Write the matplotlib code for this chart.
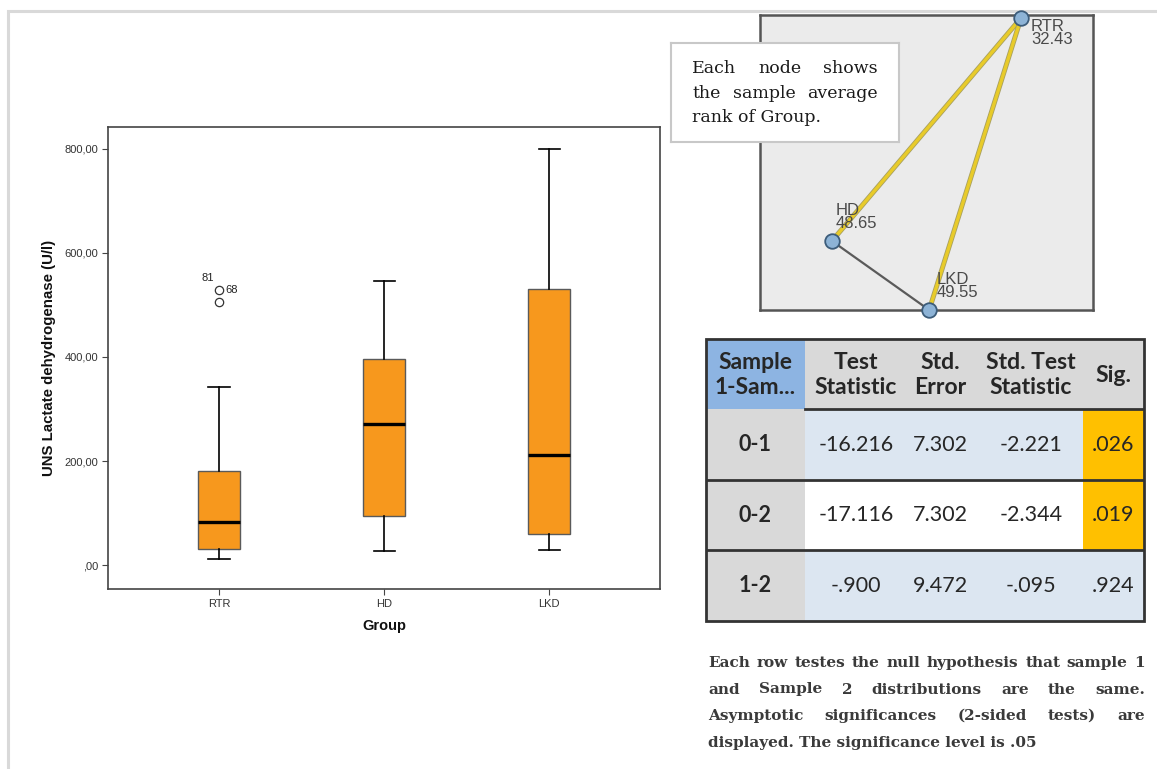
import matplotlib.pyplot as plt
import matplotlib.patheffects as pe
from matplotlib.patches import Rectangle

# boxplot: UNS lactate dehydrogenase by group
groups = ["RTR", "HD", "LKD"]
whisker_low = [11, 27, 28]
q1 = [30, 94, 59]
medians = [83, 271, 212]
q3 = [181, 397, 530]
whisker_high = [343, 546, 800]
outlier_values = [[529, 506], [], []]
outlier_ids = [["68", "81"], [], []]
y_ticks = [0, 200, 400, 600, 800]

# pairwise comparison network (mean ranks)
mean_ranks = [32.43, 48.65, 49.55]
node_x = [0.784, 0.216, 0.508]
node_y = [0.99, 0.234, 0.0]

# pairwise comparison table
pairs = ["0-1", "0-2", "1-2"]
pair_nodes = [(0, 1), (0, 2), (1, 2)]
test_stat = [-16.216, -17.116, -0.900]
std_error = [7.302, 7.302, 9.472]
std_test_stat = [-2.221, -2.344, -0.095]
sig = [0.026, 0.019, 0.924]
header = ["Sample\n1-Sam...", "Test\nStatistic", "Std.\nError", "Std. Test\nStatistic", "Sig."]

node_note = ["Each node shows", "the sample average", "rank of Group."]
footnote = [
    "Each row testes the null hypothesis that sample 1",
    "and Sample 2 distributions are the same.",
    "Asymptotic significances (2-sided tests) are",
    "displayed. The significance level is .05",
]

W, H = 1157, 769
fig = plt.figure(figsize=(W / 100, H / 100), dpi=100)
renderer = fig.canvas.get_renderer()


def px_axes(x0, y0, x1, y1, z=1):
    ax = fig.add_axes([x0 / W, 1 - y1 / H, (x1 - x0) / W, (y1 - y0) / H], zorder=z)
    ax.set_xlim(x0, x1)
    ax.set_ylim(y1, y0)
    return ax


def justified(ax, lines, x0, x1, y0, dy, **kw):
    for i, line in enumerate(lines):
        y = y0 + i * dy
        words = line.split()
        if i == len(lines) - 1 or len(words) == 1:
            ax.text(x0, y, line, ha="left", va="baseline", **kw)
            continue
        texts = [ax.text(0, y, w, ha="left", va="baseline", **kw) for w in words]
        widths = [t.get_window_extent(renderer).width for t in texts]
        gap = (x1 - x0 - sum(widths)) / (len(words) - 1)
        x = x0
        for t, w in zip(texts, widths):
            t.set_x(x)
            x += w + gap


def fmt(v):
    s = f"{v:.3f}"
    if abs(v) < 1:
        s = s.replace("0.", ".", 1)
    return s


# background frame + footnote
bg = px_axes(0, 0, W, H, z=0)
bg.axis("off")
bg.plot([8, 8, W], [H, 11, 11], color="#d9d9d9", lw=2.2, solid_joinstyle="miter")
justified(bg, footnote, 708, 1145, 667, 26.5,
          family="DejaVu Serif", weight="bold", fontsize=11, color="#3a3a3a")

# ---- boxplot ----
ax = px_axes(108, 127, 660, 589, z=2)
stats = []
for i in range(len(groups)):
    stats.append(dict(whislo=whisker_low[i], q1=q1[i], med=medians[i], q3=q3[i],
                      whishi=whisker_high[i], fliers=outlier_values[i]))
ax.bxp(stats, positions=range(1, len(groups) + 1), widths=0.255, capwidths=0.13,
       patch_artist=True,
       boxprops=dict(facecolor="#F7981D", edgecolor="#5a5a5a", lw=1.0),
       medianprops=dict(color="black", lw=2.4),
       whiskerprops=dict(color="black", lw=1.2),
       capprops=dict(color="black", lw=1.2),
       flierprops=dict(marker="o", markersize=6, markerfacecolor="none",
                       markeredgecolor="#333333", markeredgewidth=0.9))
id_offsets = [(6, 0, "left"), (-11, 24, "center")]
for i, (vals, ids) in enumerate(zip(outlier_values, outlier_ids)):
    for v, lab, off in zip(vals, ids, id_offsets):
        ax.annotate(lab, (i + 1, v), xytext=off[:2], textcoords="offset pixels",
                    ha=off[2], va="center", fontsize=8, family="Liberation Sans",
                    color="#222222")
ax.set_xlim(0.327, 3.67)
ax.set_ylim(-46, 842)
ax.set_yticks(y_ticks)
ylabels = []
for v in y_ticks:
    s = f"{v:.2f}".replace(".", ",")
    ylabels.append(s[1:] if s.startswith("0") else s)
ax.set_yticklabels(ylabels)
ax.set_xticks(range(1, len(groups) + 1))
ax.set_xticklabels(groups)
for sp in ax.spines.values():
    sp.set_color("#444444")
    sp.set_linewidth(1.2)
ax.tick_params(direction="out", length=4, width=0.8, color="#444444",
               labelsize=8, labelcolor="#333333", pad=3)
for lab in ax.get_xticklabels() + ax.get_yticklabels():
    lab.set_family("Liberation Sans")
ax.set_ylabel("UNS Lactate dehydrogenase (U/l)", fontsize=10.8, weight="bold",
              family="Liberation Sans", color="#111111")
ax.set_xlabel("Group", fontsize=10.5, weight="bold", family="Liberation Sans",
              color="#111111")
ax.yaxis.set_label_coords((56 - 108) / 552, 0.5)
ax.xaxis.set_label_coords(0.5, -(619 - 589) / 462)

# ---- network of mean ranks ----
net = fig.add_axes([760 / W, 1 - 310 / H, 333 / W, 295 / H], zorder=2)
net.set_facecolor("#EBEBEB")
net.set_xlim(0, 1)
net.set_ylim(0, 1)
net.set_xticks([])
net.set_yticks([])
for sp in net.spines.values():
    sp.set_color("#555555")
    sp.set_linewidth(1.8)
for (a, b), p in zip(pair_nodes, sig):
    if p < 0.05:
        net.plot([node_x[a], node_x[b]], [node_y[a], node_y[b]], color="#E8CB2A",
                 lw=2.4, clip_on=False, zorder=2,
                 path_effects=[pe.Stroke(linewidth=3.6, foreground="#a8a060"), pe.Normal()])
    else:
        net.plot([node_x[a], node_x[b]], [node_y[a], node_y[b]], color="#5a5a5a",
                 lw=1.6, clip_on=False, zorder=2)
net.scatter(node_x, node_y, s=110, facecolor="#8DB3D6", edgecolor="#3c5c7a",
            lw=1.3, zorder=4, clip_on=False)
label_offsets = [(10, -1, "top"), (4, 10, "bottom"), (7, 10, "bottom")]
for x, y, g, r, off in zip(node_x, node_y, groups, mean_ranks, label_offsets):
    net.annotate(f"{g}\n{r:.2f}", (x, y), xytext=off[:2], textcoords="offset pixels",
                 ha="left", va=off[2], fontsize=12, family="Liberation Sans",
                 color="#4a4a4a", linespacing=0.85, zorder=5)

# note box over the network
note = px_axes(671, 43, 899, 142, z=3)
note.set_facecolor("white")
note.set_xticks([])
note.set_yticks([])
for sp in note.spines.values():
    sp.set_color("#c8c8c8")
    sp.set_linewidth(1.5)
justified(note, node_note, 692, 878, 73, 24.5,
          family="DejaVu Serif", fontsize=12.5, color="#1a1a1a")

# ---- table ----
tb = px_axes(706, 339, 1144, 621, z=2)
tb.axis("off")
row_edges = [339, 409, 480, 550, 621]
col_centers = [755, 856, 940, 1031, 1113]
c0, c_sig, c_end = 805, 1083, 1144
row_fill = ["#DCE6F1", "white", "#DCE6F1"]
tb.add_patch(Rectangle((706, 339), c0 - 706, 70, facecolor="#8DB4E2", lw=0))
tb.add_patch(Rectangle((c0, 339), c_end - c0, 70, facecolor="#D9D9D9", lw=0))
for i in range(len(pairs)):
    y0, y1 = row_edges[i + 1], row_edges[i + 2]
    tb.add_patch(Rectangle((706, y0), c0 - 706, y1 - y0, facecolor="#D9D9D9", lw=0))
    tb.add_patch(Rectangle((c0, y0), c_sig - c0, y1 - y0, facecolor=row_fill[i], lw=0))
    tb.add_patch(Rectangle((c_sig, y0), c_end - c_sig, y1 - y0,
                           facecolor="#FFC000" if sig[i] < 0.05 else row_fill[i], lw=0))
tb.plot([c0, c_end], [409, 409], color="#333333", lw=2)
for y in row_edges[2:-1]:
    tb.plot([706, c_end], [y, y], color="#333333", lw=2)
tb.add_patch(Rectangle((706, 339), c_end - 706, 621 - 339, fill=False,
                       edgecolor="#333333", lw=2, clip_on=False))
for x, h in zip(col_centers, header):
    tb.text(x, 375, h, ha="center", va="center", fontsize=16.5, weight="bold",
            family="Lato", color="#262626", linespacing=1.22)
for i in range(len(pairs)):
    y = (row_edges[i + 1] + row_edges[i + 2]) / 2
    vals = [pairs[i], fmt(test_stat[i]), fmt(std_error[i]), fmt(std_test_stat[i]), fmt(sig[i])]
    for j, (x, s) in enumerate(zip(col_centers, vals)):
        tb.text(x, y, s, ha="center", va="center", fontsize=15.5,
                weight="bold" if j == 0 else "normal", family="Lato", color="#262626")

fig.savefig("out.png", dpi=100)
